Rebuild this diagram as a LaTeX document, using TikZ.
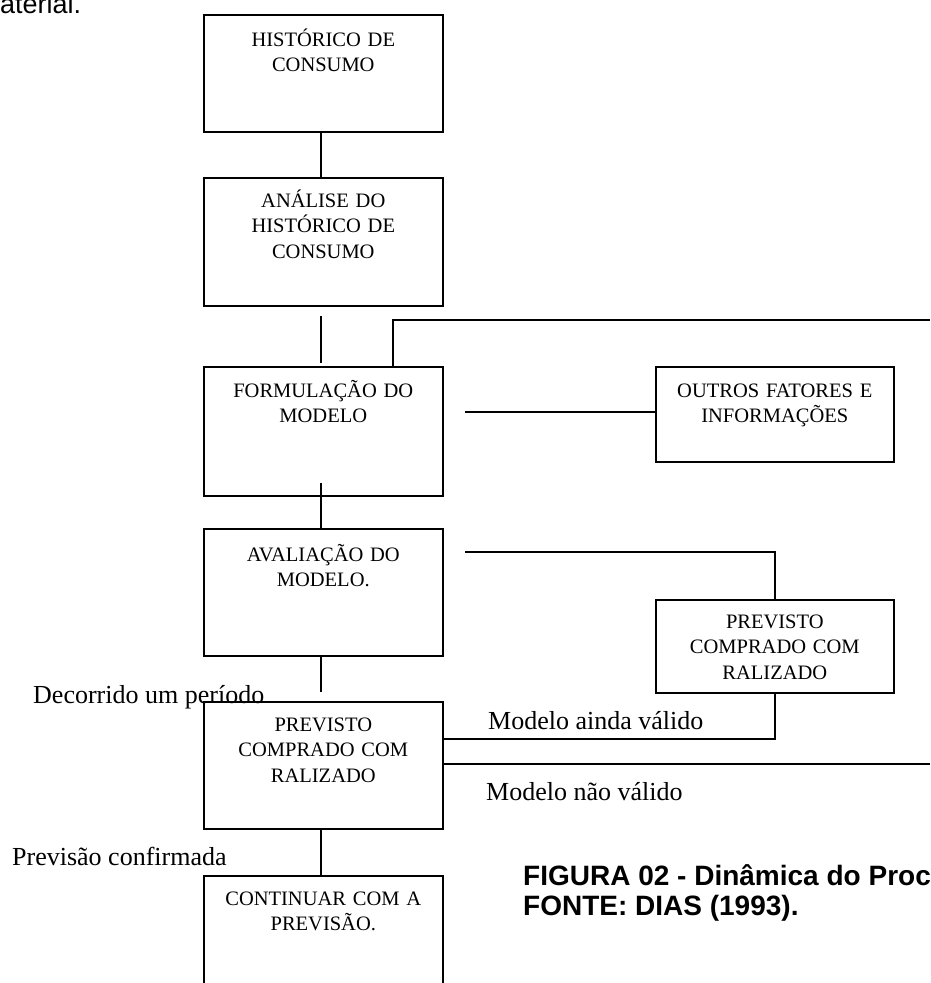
\documentclass[tikz,border=0pt]{standalone}
\usepackage{fontspec}
\setmainfont{Liberation Serif}
\newfontfamily\arialf{Liberation Sans}
\begin{document}
\begin{tikzpicture}[x=1pt,y=-1pt,
  box/.style={draw, line width=1.6pt, anchor=north west, inner sep=0pt},
  btxt/.style={anchor=base, align=center, text width=236pt, inner sep=0pt, font=\fontsize{20.5}{25.5}\selectfont},
  lbl/.style={anchor=base west, inner sep=0pt, font=\fontsize{26}{30}\selectfont},
  captxt/.style={anchor=base west, inner sep=0pt, font=\arialf\bfseries\fontsize{28}{30}\selectfont},
  conn/.style={line width=1.6pt}]
\useasboundingbox (0,0) rectangle (930,983);
\clip (0,0) rectangle (930,983);

% top-left cut text
\node[anchor=base west, inner sep=0pt, font=\arialf\fontsize{27}{30}\selectfont] (mat) at (0,13) {aterial.};

% boxes
\node[box, minimum width=239pt, minimum height=117pt] (b1) at (203,14) {};
\node[box, minimum width=239pt, minimum height=128pt] (b2) at (203,177) {};
\node[box, minimum width=239pt, minimum height=129pt] (b3) at (203,366) {};
\node[box, minimum width=238pt, minimum height=95pt] (bout) at (655,366) {};
\node[box, minimum width=239pt, minimum height=127pt] (b4) at (203,528) {};
\node[box, minimum width=238pt, minimum height=93pt] (bprev) at (655,599) {};
\node[box, minimum width=239pt, minimum height=127pt] (b5) at (203,701) {};
\node[box, minimum width=239pt, minimum height=140pt] (b6) at (203,875) {};

% box texts
\node[btxt] (t1) at ([yshift=-32pt]b1.north) {HISTÓRICO DE\\CONSUMO};
\node[btxt] (t2) at ([yshift=-30pt]b2.north) {ANÁLISE DO\\HISTÓRICO DE\\CONSUMO};
\node[btxt] (t3) at ([yshift=-31pt]b3.north) {FORMULAÇÃO DO\\MODELO};
\node[btxt] (tout) at ([yshift=-31pt]bout.north) {OUTROS FATORES E\\INFORMAÇÕES};
\node[btxt] (t4) at ([yshift=-33pt]b4.north) {AVALIAÇÃO DO\\MODELO.};
\node[btxt] (tprev) at ([yshift=-29pt]bprev.north) {PREVISTO\\COMPRADO COM\\RALIZADO};
\node[btxt] (t5) at ([yshift=-30pt]b5.north) {PREVISTO\\COMPRADO COM\\RALIZADO};
\node[btxt] (t6) at ([yshift=-30pt]b6.north) {CONTINUAR COM A\\PREVISÃO.};

% labels
\node[lbl] (l1) at (33,703) {Decorrido um período};
\node[lbl] (l2) at (488,729) {Modelo ainda válido};
\node[lbl] (l3) at (486,800) {Modelo não válido};
\node[lbl] (l4) at (12,865) {Previsão confirmada};

% caption
\node[captxt] (c1) at (523,885) {FIGURA 02 - Dinâmica do Proc};
\node[captxt] (c2) at (523,915) {FONTE: DIAS (1993).};

% coordinates for free ends
\coordinate (g1a) at (321,316);
\coordinate (g1b) at (321,363);
\coordinate (k1) at (393,0);
\coordinate (e1) at (930,320);
\coordinate (h1) at (465,412);
\coordinate (g2a) at (321,483);
\coordinate (h2) at (465,552);
\coordinate (g3b) at (321,692);
\coordinate (y1) at (0,739);
\coordinate (y2) at (0,764);
\coordinate (e2) at (930,764);

% connectors
\draw[conn] (b1.south -| g1a) -- (b2.north -| g1a);
\draw[conn] (g1a) -- (g1b);
\draw[conn] (b3.north -| k1) |- (e1);
\draw[conn] (h1) -- (h1 -| bout.west);
\draw[conn] (g2a) -- (b4.north -| g2a);
\draw[conn] (h2) -| (bprev.north);
\draw[conn] (b4.south -| g3b) -- (g3b);
\draw[conn] (b5.east |- y1) -| (bprev.south);
\draw[conn] (b5.east |- y2) -- (e2);
\draw[conn] (b5.south -| g1a) -- (b6.north -| g1a);
\end{tikzpicture}
\end{document}
